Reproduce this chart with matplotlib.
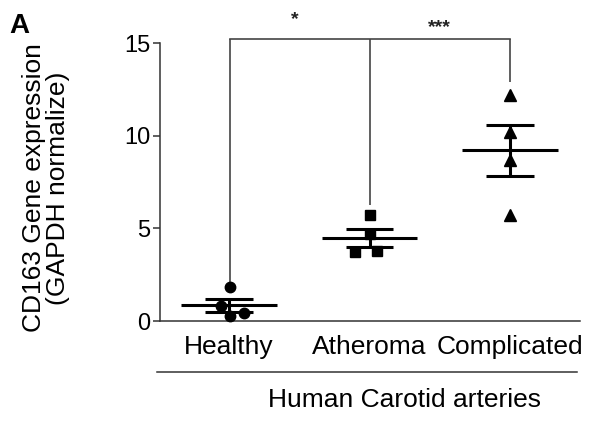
import numpy as np
import matplotlib
matplotlib.use("Agg")
import matplotlib.pyplot as plt
from matplotlib.lines import Line2D

plt.rcParams['font.family'] = ['Liberation Sans', 'DejaVu Sans']

# Group labels and CD163 expression values (GAPDH normalized)
categories = ["Healthy", "Atheroma", "Complicated"]
healthy = [1.85, 0.80, 0.45, 0.25]
atheroma = [5.70, 4.70, 3.70, 3.80]
complicated = [12.20, 10.20, 8.70, 5.70]
groups = [healthy, atheroma, complicated]
markers = ["o", "s", "^"]
jitter = [[0.01, -0.06, 0.11, 0.01],
          [0.00, 0.00, -0.10, 0.05],
          [0.00, 0.00, 0.00, 0.00]]
yticks = [0, 5, 10, 15]
stars = ["*", "***"]

fig = plt.figure(figsize=(5.92, 4.22), dpi=100)
ax = fig.add_axes([160/592, 1-321/422, 420/592, 278/422])

for i, (vals, m) in enumerate(zip(groups, markers)):
    v = np.asarray(vals)
    xs = i + np.asarray(jitter[i])
    ax.plot(xs, v, linestyle="none", marker=m, color="black",
            markersize=7.5 if m != "^" else 8, clip_on=False, zorder=3)
    mean = v.mean()
    sem = v.std(ddof=1) / np.sqrt(len(v))
    ax.hlines(mean, i - 0.34, i + 0.34, color="black", lw=2.2, zorder=4)
    ax.hlines([mean - sem, mean + sem], i - 0.17, i + 0.17, color="black", lw=2.2, zorder=4)
    ax.vlines(i, mean - sem, mean + sem, color="black", lw=2.2, zorder=4)

# Significance bracket
top = 15.22
gaps = [0.25, 0.55, 0.7]
bx = [i + jitter[i][int(np.argmax(g))] for i, g in enumerate(groups)]
for i, g in enumerate(groups):
    ax.plot([bx[i], bx[i]], [max(g) + gaps[i], top], color="#444444", lw=1.2,
            clip_on=False, solid_capstyle="butt")
ax.plot([bx[0], bx[2]], [top, top], color="#444444", lw=1.2, clip_on=False)
ax.text(0.47, 16.25, stars[0], ha="center", va="center", fontsize=14,
        fontweight="bold", color="#222222")
ax.text(1.50, 15.85, stars[1], ha="center", va="center", fontsize=14,
        fontweight="bold", color="#222222")

ax.set_ylim(0, 15)
ax.set_xlim(-0.491, 2.498)
ax.set_yticks(yticks)
ax.set_xticks(range(len(categories)))
ax.set_xticklabels(categories, fontsize=19)
ax.tick_params(axis="y", labelsize=17, length=5, width=1.1, color="#333333", pad=2)
ax.tick_params(axis="x", length=0, pad=10)
for s in ["top", "right"]:
    ax.spines[s].set_visible(False)
for s in ["left", "bottom"]:
    ax.spines[s].set_color("#333333")
    ax.spines[s].set_linewidth(1.1)

# Y axis title
fig.text(46/592, 1-188/422, "CD163 Gene expression\n(GAPDH normalize)", rotation=90,
         ha="center", va="center", multialignment="center", fontsize=19,
         linespacing=0.95)

# Group line and caption beneath the category labels
fig.add_artist(Line2D([157/592, 577/592], [1-372/422, 1-372/422], color="#333333", lw=1.1))
fig.text(405/592, 1-400/422, "Human Carotid arteries", ha="center", va="center", fontsize=19)
fig.text(9/592, 1-26/422, "A", ha="left", va="center", fontsize=20, fontweight="bold")

fig.savefig("out.png", dpi=100)
